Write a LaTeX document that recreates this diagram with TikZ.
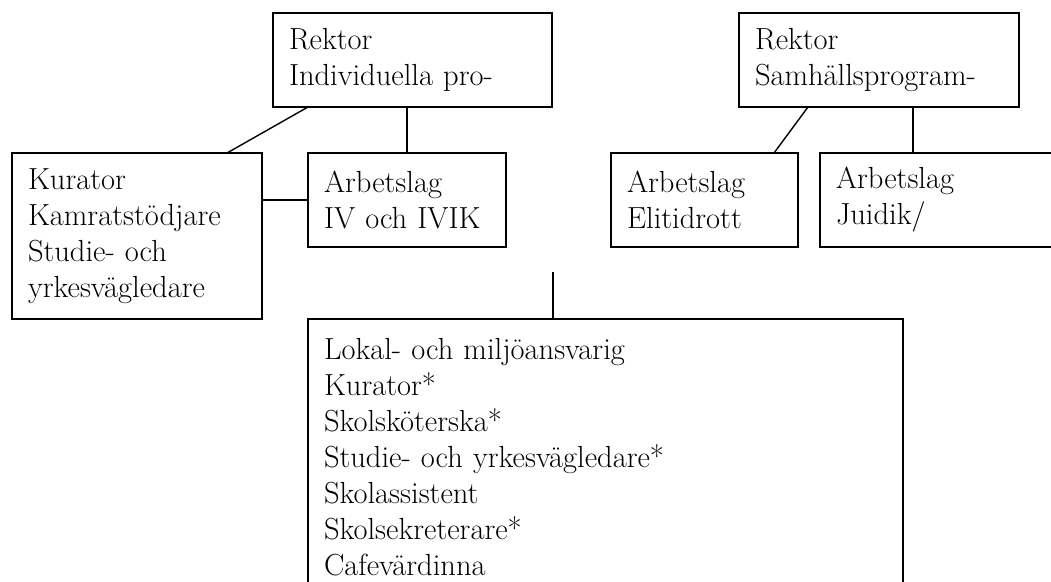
\documentclass[tikz,border=0pt]{standalone}
\usepackage{fontspec}
\usepackage{tikz}
\usetikzlibrary{positioning}

\begin{document}
\begin{tikzpicture}[x=1pt,y=-1pt,
		box/.style = {draw, rectangle, line width=1.8pt, outer sep=0pt, anchor=north west, align=left, inner xsep=16pt, inner ysep=0pt, font=\fontsize{30.5}{36}\selectfont},
		link/.style = {line width=1.4pt}]
		\useasboundingbox (0,0) rectangle (1051,581);
		\clip (0,0) rectangle (1051,581);
		% vänstra delen
		\node[box, text width=247pt, minimum height=94pt] (rektorIP) at (273,13) {Rektor\\Individuella pro-};
		\node[box, text width=218pt, minimum height=166pt] (kurator) at (12,153) {Kurator\\Kamratstödjare\\Studie- och\\yrkesvägledare};
		\node[box, text width=166pt, minimum height=94pt] (arbIV) [right=46pt of kurator.north east, anchor=north west] {Arbetslag\\IV och IVIK};
		% högra delen
		\node[box, text width=248pt, minimum height=94pt] (rektorSH) at (739,13) {Rektor\\Samhällsprogram-};
		\node[box, text width=155pt, minimum height=94pt] (arbElit) at (611,153) {Arbetslag\\Elitidrott};
		\node[box, text width=218pt, minimum height=94pt] (arbJuidik) [right=22pt of arbElit.north east, anchor=north west] {Arbetslag\\Juidik/};
		% gemensamma
		\node[box, text width=563pt, minimum height=276pt] (gemensam) [below=72pt of arbIV.south west, anchor=north west] {Lokal- och miljöansvarig\\Kurator*\\Skolsköterska*\\Studie- och yrkesvägledare*\\Skolassistent\\Skolsekreterare*\\Cafevärdinna};
		\coordinate (stub) at ([xshift=245pt,yshift=47pt]gemensam.north west);
		\draw[link] ([xshift=35pt]rektorIP.south west) to ([xshift=-35pt]kurator.north east);
		\draw[link] (arbIV.north) to (arbIV.north |- rektorIP.south);
		\draw[link] (arbIV.west) to (arbIV.west -| kurator.east);
		\draw[link] ([xshift=69pt]rektorSH.south west) to ([xshift=-24pt]arbElit.north east);
		\draw[link] ([xshift=93pt]arbJuidik.north west) to ([xshift=93pt]arbJuidik.north west |- rektorSH.south);
		\draw[link] (stub) to (stub |- gemensam.north);
	\end{tikzpicture}
\end{document}
